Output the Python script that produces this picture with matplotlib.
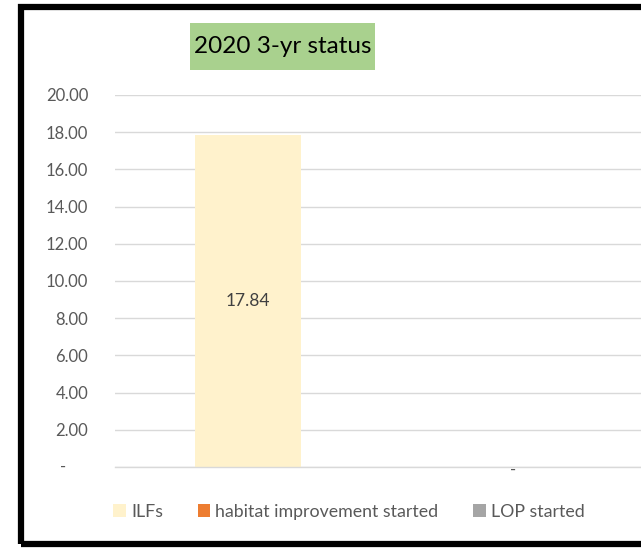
import matplotlib.pyplot as plt
from matplotlib.patches import Rectangle, Patch

# chart values
categories = ["ILFs", "habitat improvement started"]
series_names = ["ILFs", "habitat improvement started", "LOP started"]
series_colors = ["#FFF2CC", "#ED7D31", "#A5A5A5"]
ilfs = [17.84, None]
habitat_started = [None, 0.0]
y_ticks = [0, 2, 4, 6, 8, 10, 12, 14, 16, 18, 20]

TEXT_GREY = "#595959"
GRID = "#D9D9D9"

plt.rcParams["font.family"] = ["Lato", "DejaVu Sans"]

fig = plt.figure(figsize=(6.41, 5.48), dpi=100)
fig.patch.set_facecolor("white")
ax = fig.add_axes([0.180, 0.1478, 0.827, 0.679])

x = list(range(len(categories)))
bar_w = 0.4

# ILFs bar with centred data label
for xi, v in zip(x, ilfs):
    if v is None:
        continue
    ax.bar(xi, v, width=bar_w, color=series_colors[0], zorder=2)
    ax.text(xi, v / 2, f"{v:.2f}", ha="center", va="center", fontsize=12.5, color="#404040")

# zero-valued series shown with accounting-style "-" label
for xi, v in zip(x, habitat_started):
    if v is None:
        continue
    ax.bar(xi, v, width=bar_w, color=series_colors[1], zorder=2)
    ax.text(xi, v - 0.15, "-", ha="center", va="center", fontsize=12, color=TEXT_GREY)

ax.set_xlim(-0.5, 1.5)
ax.set_ylim(0, 20)
ax.set_yticks(y_ticks)
ax.set_yticklabels([""] + [f"{t:.2f}" for t in y_ticks[1:]])
ax.tick_params(axis="y", length=0, labelsize=12, labelcolor=TEXT_GREY, pad=19.5)
# zero shown as a centred dash, like Excel's accounting format
ax.annotate("-", xy=(0, 0), xycoords=("axes fraction", "data"), xytext=(-37.5, 0),
            textcoords="offset points", ha="center", va="center", fontsize=12, color=TEXT_GREY)
ax.set_xticks([])
ax.grid(axis="y", color=GRID, linewidth=1, zorder=0)
for side in ["top", "right", "left"]:
    ax.spines[side].set_visible(False)
ax.spines["bottom"].set_color(GRID)
ax.spines["bottom"].set_linewidth(1)
ax.set_facecolor("none")

# title in a green box
fig.patches.append(Rectangle((190 / 641, 478 / 548), 185 / 641, 47 / 548, transform=fig.transFigure,
                             facecolor="#A9D18E", edgecolor="none"))
fig.text(0.4407, 0.9151, "2020 3-yr status", ha="center", va="center", fontsize=17.5, color="black")

handles = [Patch(facecolor=c, edgecolor="none") for c in series_colors]
fig.legend(handles, series_names, loc="center", bbox_to_anchor=(0.5445, 0.066), ncol=3,
           frameon=False, fontsize=12.8, labelcolor=TEXT_GREY, handlelength=0.7,
           handleheight=0.7, handletextpad=0.3, columnspacing=1.95)

# thick black frame, cut off at the right edge
fig.patches.append(Rectangle((21 / 641, 4 / 548), 1.0, 537 / 548, transform=fig.transFigure,
                             fill=False, edgecolor="black", linewidth=4.5, zorder=10))

fig.savefig("out.png", dpi=100)
